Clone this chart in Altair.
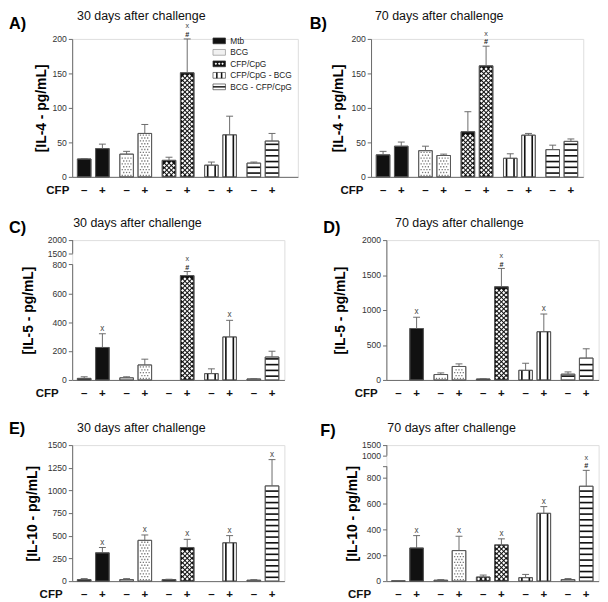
import altair as alt
import pandas as pd

# ---------------- data ----------------
GROUPS = ["Mtb", "BCG", "CFP/CpG", "CFP/CpG - BCG", "BCG - CFP/CpG"]
CFP_LABELS = ["–", "+"]

# order of every series: Mtb-, Mtb+, BCG-, BCG+, CFP/CpG-, CFP/CpG+,
# CFP/CpG-BCG -, +, BCG-CFP/CpG -, +
IL4_D30_MEAN = [26, 41, 33, 63, 24, 151, 17, 61, 20, 52]
IL4_D30_SEM = [0.5, 6.5, 4, 13, 4.5, 49, 4.5, 27, 1.5, 11]
IL4_D30_SIG = ["", "", "", "", "", "x#", "", "", "", ""]

IL4_D70_MEAN = [32, 44.5, 38, 31, 65.5, 161, 27, 60.5, 39.5, 51.5]
IL4_D70_SEM = [5, 6, 6.5, 2, 29, 28.5, 6.5, 2.5, 6.5, 3.5]
IL4_D70_SIG = ["", "", "", "", "", "x#", "", "", "", ""]

IL5_D30_MEAN = [11, 225, 15, 104, 0, 723, 44, 298, 7, 159]
IL5_D30_SEM = [11, 95, 7, 40, 0, 28, 33, 115, 2, 40]
IL5_D30_SIG = ["", "x", "", "", "", "x#", "", "x", "", ""]

IL5_D70_MEAN = [0, 736, 78, 193, 14, 1333, 138, 690, 83, 313]
IL5_D70_SEM = [0, 161, 23, 37, 4, 262, 101, 253, 32, 133]
IL5_D70_SIG = ["", "x", "", "", "", "x#", "", "x", "", ""]

IL10_D30_MEAN = [17, 312, 17, 450, 17, 371, 0, 423, 10, 1050]
IL10_D30_SEM = [11, 59, 11, 59, 4, 90, 0, 79, 7, 290]
IL10_D30_SIG = ["", "x", "", "x", "", "x", "", "x", "", "x"]

IL10_D70_MEAN = [2, 257, 7, 237, 32, 281, 27, 526, 12, 736]
IL10_D70_SEM = [0, 96, 5, 111, 15, 47, 25, 52, 8, 123]
IL10_D70_SIG = ["", "x", "", "x", "", "x", "", "x", "", "x#"]

IL4_TICKS = [0, 50, 100, 150, 200]
IL5_D30_TICKS = [0, 200, 400, 600, 800, 1500, 2000]
IL5_D70_TICKS = [0, 500, 1000, 1500, 2000]
IL10_D30_TICKS = [0, 250, 500, 750, 1000, 1250, 1500]
IL10_D70_TICKS = [0, 200, 400, 600, 800, 1000, 1500]

# ---------------- layout / style ----------------
PX = 19.0                 # pixels per x unit (distance between - and + bars)
HALF_BAR = 7.1 / PX
CAP = 3.6 / PX
GROUP_STEP = 2.33
XMIN = -0.66
AXIS_GRAY = "#666666"
INK = "#111111"
FONT = "Liberation Sans"


def build_bars(mean, sem, sig):
    rows = []
    for i in range(len(mean)):
        gi, ci = divmod(i, 2)
        pos = gi * GROUP_STEP + ci
        rows.append({
            "group": GROUPS[gi], "cfp": CFP_LABELS[ci], "pos": pos,
            "x0": pos - HALF_BAR, "x1": pos + HALF_BAR,
            "c0": pos - CAP, "c1": pos + CAP,
            "value": mean[i], "base": 0, "sem": sem[i],
            "upper": mean[i] + sem[i],
            "sx": "x" if "x" in sig[i] else "",
            "sh": "#" if "#" in sig[i] else "",
        })
    return pd.DataFrame(rows)


def build_patterns(bars, ky):
    dots, dias, vl, hl = [], [], [], []
    for r in bars.itertuples():
        if r.value <= 0:
            continue
        top = r.value * ky
        if r.group == "BCG":
            j = 0
            while 1.6 + j * 3.0 <= top - 1.2:
                ypx = 1.6 + j * 3.0
                offs = (-4.5, -1.5, 1.5, 4.5) if j % 2 == 0 else (-3.0, 0.0, 3.0)
                for o in offs:
                    dots.append({"x": r.pos + o / PX, "y": ypx / ky})
                j += 1
        elif r.group == "CFP/CpG":
            j = 0
            while 2.3 + j * 2.4 <= top - 1.8:
                ypx = 2.3 + j * 2.4
                offs = (-4.8, 0.0, 4.8) if j % 2 == 0 else (-2.4, 2.4)
                for o in offs:
                    dias.append({"x": r.pos + o / PX, "y": ypx / ky})
                j += 1
        elif r.group == "CFP/CpG - BCG":
            for o in (-3.9, 3.9):
                vl.append({"x": r.pos + o / PX, "y0": 0, "y1": r.value})
        elif r.group == "BCG - CFP/CpG":
            k = 0
            while 4 + 6 * k <= top - 1.5:
                hl.append({"x0": r.x0, "x1": r.x1, "y": (4 + 6 * k) / ky})
                k += 1
    return dots, dias, vl, hl


def text_layer(txt, x, y, **mk):
    return alt.Chart(pd.DataFrame({"t": [txt]})).mark_text(**mk).encode(
        x=alt.value(x), y=alt.value(y), text="t:N")


def legend_layers():
    # legend placed inside panel A (pixel layout of the key)
    SW0, SW1, TX, Y0, STEP = 147, 160, 165, 2, 12
    layers = []
    for i, item in enumerate(GROUPS):
        yc = Y0 + STEP * i
        d = alt.Chart(pd.DataFrame({"item": [item]}))
        if item in ("Mtb", "CFP/CpG"):
            fill, stroke = INK, "#333"
        elif item == "BCG":
            fill, stroke = "#f1f1f1", "#999"
        else:
            fill, stroke = "white", "#555"
        layers.append(d.mark_bar(fill=fill, stroke=stroke, strokeWidth=0.8).encode(
            x=alt.value(SW0), x2=alt.value(SW1), y=alt.value(yc - 3), y2=alt.value(yc + 3)))
        if item == "CFP/CpG":
            for xv in (150.0, 153.5, 157.0):
                layers.append(d.mark_point(shape="diamond", filled=True, size=7,
                                           color="white", opacity=1, strokeWidth=0)
                              .encode(x=alt.value(xv), y=alt.value(yc)))
        if item == "CFP/CpG - BCG":
            for xa, xb in ((150.2, 151.8), (155.2, 156.8)):
                layers.append(d.mark_bar(fill=INK).encode(
                    x=alt.value(xa), x2=alt.value(xb),
                    y=alt.value(yc - 3), y2=alt.value(yc + 3)))
        if item == "BCG - CFP/CpG":
            layers.append(d.mark_rule(color=INK, strokeWidth=1.5).encode(
                x=alt.value(SW0), x2=alt.value(SW1), y=alt.value(yc)))
        layers.append(d.mark_text(align="left", baseline="middle", fontSize=8.7,
                                  color="#222").encode(
            x=alt.value(TX), y=alt.value(yc), text="item:N"))
    return layers


def panel(data, lay):
    mean, sem, sig, ticks, ytitle, title, letter = data
    h = lay["height"]
    bars = build_bars(mean, sem, sig)
    xs = alt.Scale(domain=[XMIN, lay["xmax"]], nice=False, zero=False, padding=0)
    ysk = dict(domain=lay["ydomain"], nice=False, zero=False)
    if "yfrac" in lay:
        yrange = [h] + [round(f * h, 1) for f in lay["yfrac"]] + [0]
        ysk["range"] = yrange
        ky = (yrange[0] - yrange[1]) / lay["ydomain"][1]
    else:
        ysk["padding"] = 0
        ky = h / lay["ydomain"][-1]
    ys = alt.Scale(**ysk)
    broken = "segments" in lay
    tick_vals = list(ticks) + lay.get("extra_ticks", [])
    axk = dict(values=tick_vals, format="d", title=ytitle, titleFontSize=14.5,
               titleFontWeight="bold", titleColor="#000", titlePadding=lay["tpad"],
               labelFontSize=9, labelColor="#333", labelPadding=2, tickColor=AXIS_GRAY,
               tickSize=4, domain=not broken, domainColor=AXIS_GRAY, grid=False,
               labelOverlap=False)
    if lay.get("extra_ticks"):
        hide = " || ".join(f"datum.value == {v}" for v in lay["extra_ticks"])
        axk["labelExpr"] = f"({hide}) ? '' : datum.label"
    yaxis = alt.Axis(**axk)
    xaxis = alt.Axis(title=None, labels=False, ticks=False, grid=False,
                     domainColor=AXIS_GRAY)

    def X(field):
        return alt.X(field, scale=xs, axis=xaxis)

    def Y(field):
        return alt.Y(field, scale=ys, axis=yaxis)

    b = alt.Chart(bars)
    layers = []
    layers.append(
        b.transform_filter("datum.value > 0").mark_bar(stroke="#555", strokeWidth=0.9).encode(
            x=X("x0:Q"), x2="x1:Q", y=Y("value:Q"), y2="base:Q",
            fill=alt.Fill("group:N", scale=alt.Scale(domain=GROUPS,
                          range=[INK, "#ffffff", INK, "#ffffff", "#ffffff"]), legend=None)))
    dots, dias, vl, hl = build_patterns(bars, ky)
    if dots:
        layers.append(alt.Chart(pd.DataFrame(dots)).mark_square(
            size=1.8, color="#7a7a7a", opacity=1).encode(x=X("x:Q"), y=Y("y:Q")))
    if dias:
        layers.append(alt.Chart(pd.DataFrame(dias)).mark_point(
            shape="diamond", filled=True, size=11, color="white", opacity=1,
            strokeWidth=0).encode(x=X("x:Q"), y=Y("y:Q")))
    if vl:
        layers.append(alt.Chart(pd.DataFrame(vl)).mark_rule(
            color=INK, strokeWidth=1.7).encode(x=X("x:Q"), y=Y("y0:Q"), y2="y1:Q"))
    if hl:
        layers.append(alt.Chart(pd.DataFrame(hl)).mark_rule(
            color=INK, strokeWidth=1.7).encode(x=X("x0:Q"), x2="x1:Q", y=Y("y:Q")))
    # crisp outline
    layers.append(
        b.transform_filter("datum.value > 0").mark_bar(
            fillOpacity=0, stroke="#555", strokeWidth=0.9).encode(
            x=X("x0:Q"), x2="x1:Q", y=Y("value:Q"), y2="base:Q"))
    # error bars
    eb = b.transform_filter("datum.sem > 0")
    layers.append(eb.mark_rule(color=AXIS_GRAY, strokeWidth=1).encode(
        x=X("pos:Q"), y=Y("value:Q"), y2="upper:Q"))
    layers.append(eb.mark_rule(color=AXIS_GRAY, strokeWidth=1).encode(
        x=X("c0:Q"), x2="c1:Q", y=Y("upper:Q")))
    # significance marks
    layers.append(b.transform_filter("datum.sh == '#'").mark_text(
        baseline="bottom", dy=0, fontSize=7.5, fontWeight="bold", color="#222").encode(
        x=X("pos:Q"), y=Y("upper:Q"), text="sh:N"))
    layers.append(b.transform_filter("datum.sx == 'x' && datum.sh == ''").mark_text(
        baseline="bottom", dy=-1, fontSize=8.5, color="#444").encode(
        x=X("pos:Q"), y=Y("upper:Q"), text="sx:N"))
    layers.append(b.transform_filter("datum.sx == 'x' && datum.sh == '#'").mark_text(
        baseline="bottom", dy=-9, fontSize=7.5, color="#444").encode(
        x=X("pos:Q"), y=Y("upper:Q"), text="sx:N"))
    # CFP - / + row
    layers.append(b.mark_text(baseline="middle", fontSize=12, fontWeight="bold",
                              color="#111").encode(
        x=X("pos:Q"), y=alt.value(h + 14), text="cfp:N"))
    layers.append(text_layer("CFP", lay["cfpx"], h + 14, align="right", baseline="middle",
                             fontSize=12, fontWeight="bold", color="#111"))
    layers.append(text_layer(letter, lay["lx"], lay["ly"], align="left",
                             baseline="alphabetic", fontSize=17, fontWeight="bold",
                             color="#000"))
    layers.append(text_layer(title, lay["tx"], lay["ty"], align="left",
                             baseline="alphabetic", fontSize=13, color="#111"))
    if "left" in lay:
        layers.append(text_layer(".", lay["left"], 0, align="left", baseline="top",
                                 fontSize=2, opacity=0))
    if broken:
        seg = pd.DataFrame({"lo": [s[0] for s in lay["segments"]],
                            "hi": [s[1] for s in lay["segments"]]})
        layers.append(alt.Chart(seg).mark_rule(color=AXIS_GRAY, strokeWidth=1).encode(
            x=alt.value(0.5), y=Y("lo:Q"), y2="hi:Q"))
    if lay.get("legend"):
        layers.extend(legend_layers())

    width = (lay["xmax"] - XMIN) * PX
    return alt.layer(*layers).properties(width=width, height=h)


T30 = "30 days after challenge"
T70 = "70 days after challenge"

A = panel((IL4_D30_MEAN, IL4_D30_SEM, IL4_D30_SIG, IL4_TICKS, "[IL-4 - pg/mL]", T30, "A)"),
          dict(height=144, xmax=11.74, ydomain=[0, 200], lx=-66, ly=-10, tx=5, ty=-20,
               tpad=4, cfpx=-3, legend=True))
B = panel((IL4_D70_MEAN, IL4_D70_SEM, IL4_D70_SIG, IL4_TICKS, "[IL-4 - pg/mL]", T70, "B)"),
          dict(height=144, xmax=11.0, ydomain=[0, 200], lx=-64, ly=-10, tx=4, ty=-20,
               tpad=6, cfpx=-8))
C = panel((IL5_D30_MEAN, IL5_D30_SEM, IL5_D30_SIG, IL5_D30_TICKS, "[IL-5 - pg/mL]", T30, "C)"),
          dict(height=146, xmax=11.0, ydomain=[0, 800, 1500, 2000], yfrac=[0.174, 0.097],
               segments=[(0, 800), (1500, 2000)], lx=-66, ly=-7, tx=1, ty=-14,
               tpad=12, cfpx=-14))
D = panel((IL5_D70_MEAN, IL5_D70_SEM, IL5_D70_SIG, IL5_D70_TICKS, "[IL-5 - pg/mL]", T70, "D)"),
          dict(height=146, xmax=11.0, ydomain=[0, 2000], lx=-66, ly=-7, tx=9, ty=-14,
               tpad=15, cfpx=-9, left=-80))
E = panel((IL10_D30_MEAN, IL10_D30_SEM, IL10_D30_SIG, IL10_D30_TICKS, "[IL-10 - pg/mL]", T30, "E)"),
          dict(height=142, xmax=11.0, ydomain=[0, 1500], lx=-66, ly=-12, tx=5, ty=-14,
               tpad=8, cfpx=-10))
F = panel((IL10_D70_MEAN, IL10_D70_SEM, IL10_D70_SIG, IL10_D70_TICKS, "[IL-10 - pg/mL]", T70, "F)"),
          dict(height=142, xmax=11.0, ydomain=[0, 890, 1000, 1500], yfrac=[0.156, 0.078],
               segments=[(0, 890), (1000, 1500)], extra_ticks=[890], lx=-69, ly=-10, tx=1,
               ty=-14, tpad=2, cfpx=-16, left=-80))

chart = alt.concat(
    A, B, C, D, E, F, columns=2, spacing={"row": 20, "column": 10},
).properties(
    padding={"top": -12, "left": 0, "right": 0, "bottom": 0},
    align={"row": "each", "column": "none"},
).configure_view(strokeWidth=0, stroke="transparent").configure_scale(
    continuousPadding=0
).configure(font=FONT)

chart.save("out.html", embed_options={"renderer": "svg", "actions": False})
